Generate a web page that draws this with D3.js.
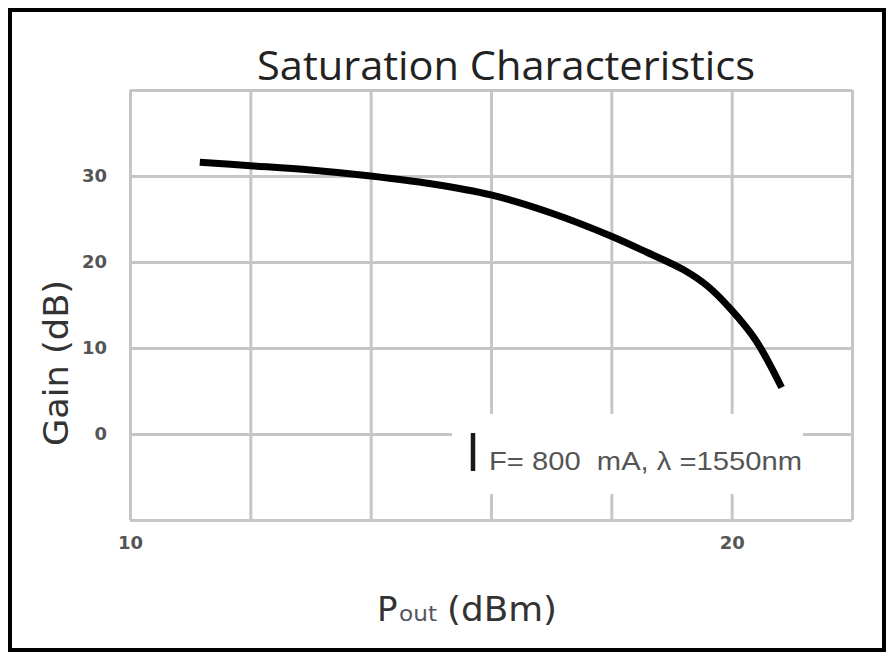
<!DOCTYPE html>
<html>
<head>
<meta charset="utf-8">
<script src="https://cdn.jsdelivr.net/npm/d3@7"></script>
<style>
  html, body { margin: 0; padding: 0; background: #fff; }
  svg { display: block; }
</style>
</head>
<body>
<svg id="chart" width="894" height="661"></svg>
<script>
// ---- data ----
const pout = [11.16, 12, 13, 14, 15, 16, 17, 18, 18.6, 19.2, 19.6, 20, 20.4, 20.83];
const gain = [31.6, 31.2, 30.7, 30.0, 29.1, 27.8, 25.7, 23.0, 21.1, 19.1, 17.2, 14.4, 10.9, 5.4];
const xGridTicks = [10, 12, 14, 16, 18, 20, 22];
const yGridTicks = [-10, 0, 10, 20, 30, 40];
const xLabelTicks = [10, 20];
const yLabelTicks = [0, 10, 20, 30];
const titleText = "Saturation Characteristics";
const yTitle = "Gain (dB)";
const legendText = "F= 800 \u00a0mA, \u03bb =1550nm";

// ---- layout ----
const svg = d3.select("#chart");
const L = 130, R = 852, T = 90, B = 520;
const x = d3.scaleLinear().domain([10, 22]).range([L, R]);
const y = d3.scaleLinear().domain([-10, 40]).range([B, T]);

svg.append("rect").attr("x", 0).attr("y", 0).attr("width", 894).attr("height", 661).attr("fill", "#fff");

// grid via axes
const gx = svg.append("g").attr("transform", `translate(0,${B})`)
  .call(d3.axisBottom(x).tickValues(xGridTicks).tickSize(-(B - T)).tickFormat(""));
gx.select(".domain").remove();
gx.selectAll("line").attr("stroke", "#c6c6c6").attr("stroke-width", 3);

const gy = svg.append("g").attr("transform", `translate(${L},0)`)
  .call(d3.axisLeft(y).tickValues(yGridTicks).tickSize(-(R - L)).tickFormat(""));
gy.select(".domain").remove();
gy.selectAll("line").attr("stroke", "#c6c6c6").attr("stroke-width", 3);

// legend box (white, covering grid)
svg.append("rect").attr("x", 452).attr("y", 414).attr("width", 351).attr("height", 80).attr("fill", "#fff");
svg.append("line").attr("x1", 473).attr("x2", 473).attr("y1", 433).attr("y2", 471)
  .attr("stroke", "#1a1a1a").attr("stroke-width", 4.5);
svg.append("text").attr("x", 489).attr("y", 470).text(legendText)
  .attr("font-family", "Liberation Sans, Arial, sans-serif").attr("font-size", 25)
  .attr("fill", "#555").attr("textLength", 313).attr("lengthAdjust", "spacingAndGlyphs");

// labels via axes
const lx = svg.append("g").attr("transform", `translate(0,${B})`)
  .call(d3.axisBottom(x).tickValues(xLabelTicks).tickSize(0).tickPadding(16).tickFormat(d3.format("d")));
lx.select(".domain").remove();
lx.selectAll("text").attr("font-family", "DejaVu Sans, sans-serif").attr("font-weight", "bold")
  .attr("font-size", 18).attr("fill", "#555");

const ly = svg.append("g").attr("transform", `translate(${L},0)`)
  .call(d3.axisLeft(y).tickValues(yLabelTicks).tickSize(0).tickPadding(23).tickFormat(d3.format("d")));
ly.select(".domain").remove();
ly.selectAll("text").attr("font-family", "DejaVu Sans, sans-serif").attr("font-weight", "bold")
  .attr("font-size", 18).attr("fill", "#555");

// curve
const pts = pout.map((p, i) => [p, gain[i]]);
svg.append("path").datum(pts)
  .attr("fill", "none").attr("stroke", "#000").attr("stroke-width", 7)
  .attr("stroke-linecap", "butt")
  .attr("d", d3.line().x(d => x(d[0])).y(d => y(d[1])).curve(d3.curveCatmullRom.alpha(0.5)));

// title
svg.append("text").attr("x", 257).attr("y", 80).text(titleText)
  .attr("font-family", "Open Sans, sans-serif").attr("font-size", 40)
  .attr("fill", "#222").attr("textLength", 498).attr("lengthAdjust", "spacingAndGlyphs");

// y title
svg.append("text").attr("transform", "translate(68,363) rotate(-90)")
  .attr("text-anchor", "middle").text(yTitle)
  .attr("font-family", "DejaVu Sans, sans-serif").attr("font-size", 34)
  .attr("fill", "#333").attr("textLength", 166).attr("lengthAdjust", "spacingAndGlyphs");

// x title: P_out (dBm)
const xfont = "DejaVu Sans, sans-serif";
svg.append("text").attr("x", 377).attr("y", 621).text("P")
  .attr("font-family", xfont).attr("font-size", 34).attr("fill", "#333");
svg.append("text").attr("x", 399).attr("y", 621).text("out")
  .attr("font-family", xfont).attr("font-size", 21).attr("fill", "#556")
  .attr("textLength", 38).attr("lengthAdjust", "spacingAndGlyphs");
svg.append("text").attr("x", 447).attr("y", 621).text("(dBm)")
  .attr("font-family", xfont).attr("font-size", 34).attr("fill", "#333")
  .attr("textLength", 110).attr("lengthAdjust", "spacingAndGlyphs");

// frame
svg.append("rect").attr("x", 10).attr("y", 10).attr("width", 874).attr("height", 640)
  .attr("fill", "none").attr("stroke", "#000").attr("stroke-width", 4);
</script>
</body>
</html>
